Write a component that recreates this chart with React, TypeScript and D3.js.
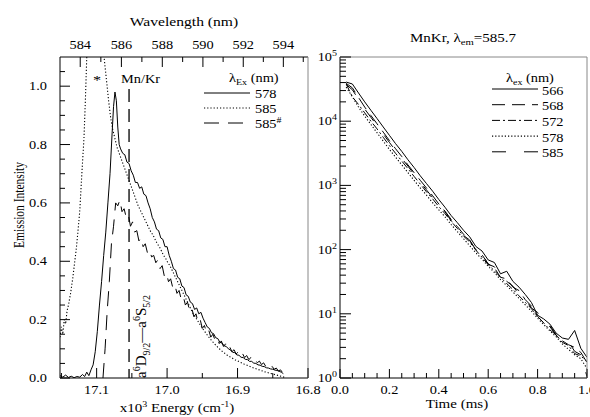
import React from 'react';
import * as d3 from 'd3';

const FONT = "'Liberation Serif', 'Times New Roman', Times, serif";
const SX = 1.25;

// ---------- Left panel: emission spectra [energy (10^3 cm^-1), intensity] ----------
const spec578: [number, number][] = [
  [17.152,0.008],[17.148,0.003],[17.144,0.01],[17.140,0.002],[17.136,0.006],[17.132,0.001],[17.128,0.005],[17.124,0.003],
  [17.120,0.012],[17.117,0.005],[17.114,0.02],[17.111,0.008],[17.108,0.028],[17.105,0.045],[17.102,0.09],[17.099,0.16],
  [17.096,0.25],[17.093,0.33],[17.090,0.42],[17.087,0.5],[17.084,0.6],[17.081,0.7],[17.078,0.84],[17.076,0.93],[17.074,0.98],
  [17.072,0.95],[17.070,0.86],[17.068,0.80],[17.066,0.785],[17.063,0.77],[17.060,0.765],[17.057,0.74],[17.054,0.735],
  [17.051,0.71],[17.048,0.695],[17.045,0.67],[17.042,0.67],[17.039,0.65],[17.036,0.655],[17.033,0.63],[17.030,0.625],
  [17.027,0.60],[17.024,0.58],[17.021,0.55],[17.018,0.535],[17.015,0.51],[17.012,0.505],[17.009,0.48],[17.006,0.475],
  [17.003,0.45],[17.000,0.45],[16.997,0.42],[16.994,0.40],[16.991,0.375],[16.988,0.37],[16.985,0.345],[16.982,0.34],
  [16.979,0.315],[16.976,0.31],[16.973,0.285],[16.970,0.28],[16.967,0.26],[16.964,0.255],[16.961,0.235],[16.958,0.24],
  [16.955,0.22],[16.952,0.225],[16.949,0.205],[16.946,0.19],[16.943,0.175],[16.940,0.17],[16.937,0.155],[16.934,0.152],
  [16.931,0.138],[16.928,0.135],[16.925,0.122],[16.922,0.12],[16.919,0.11],[16.916,0.108],[16.913,0.1],[16.910,0.096],
  [16.907,0.088],[16.904,0.087],[16.901,0.079],[16.898,0.078],[16.895,0.071],[16.892,0.07],[16.889,0.064],[16.886,0.063],
  [16.883,0.057],[16.880,0.057],[16.877,0.051],[16.874,0.05],[16.871,0.045],[16.868,0.044],[16.865,0.04],[16.862,0.039],
  [16.859,0.035],[16.856,0.034],[16.853,0.031],[16.850,0.03],[16.847,0.027],[16.844,0.026],[16.841,0.023],[16.838,0.02],
  [16.835,0.015],
];

const spec585: [number, number][] = [
  [17.152,0.14],[17.150,0.175],[17.148,0.15],[17.146,0.2],[17.144,0.185],[17.142,0.23],[17.140,0.25],[17.137,0.29],
  [17.134,0.34],[17.131,0.4],[17.129,0.44],[17.127,0.49],[17.124,0.57],[17.121,0.7],[17.118,0.82],[17.116,0.95],
  [17.114,1.1],[17.110,1.4],[17.104,1.8],[17.098,1.8],[17.093,1.4],[17.0895,1.1],[17.086,1.02],[17.083,0.95],
  [17.080,0.89],[17.077,0.85],[17.074,0.82],[17.071,0.79],[17.068,0.77],[17.065,0.75],[17.062,0.73],[17.059,0.71],
  [17.056,0.69],[17.053,0.67],[17.050,0.65],[17.047,0.63],[17.044,0.61],[17.041,0.59],[17.038,0.575],[17.035,0.56],
  [17.032,0.545],[17.029,0.53],[17.026,0.515],[17.023,0.5],[17.020,0.49],[17.017,0.475],[17.014,0.46],[17.011,0.45],
  [17.008,0.435],[17.005,0.42],[17.002,0.41],[16.999,0.395],[16.996,0.385],[16.993,0.37],[16.990,0.355],[16.987,0.34],
  [16.984,0.325],[16.981,0.31],[16.978,0.295],[16.975,0.28],[16.972,0.265],[16.969,0.25],[16.966,0.235],[16.963,0.22],
  [16.960,0.21],[16.957,0.198],[16.954,0.186],[16.951,0.175],[16.948,0.164],[16.945,0.154],[16.942,0.144],[16.939,0.135],
  [16.936,0.126],[16.933,0.118],[16.930,0.11],[16.927,0.103],[16.924,0.096],[16.921,0.09],[16.915,0.079],[16.909,0.07],
  [16.903,0.062],[16.897,0.055],[16.891,0.048],[16.885,0.042],[16.879,0.036],[16.873,0.031],[16.867,0.026],[16.861,0.021],
  [16.855,0.017],[16.849,0.013],[16.843,0.009],[16.837,0.005],[16.833,0.002],
];

const spec585h: [number, number][] = [
  [17.091,0.0],[17.088,0.1],[17.085,0.23],[17.082,0.33],[17.079,0.46],[17.076,0.52],[17.073,0.60],[17.070,0.59],
  [17.067,0.61],[17.064,0.57],[17.061,0.58],[17.058,0.55],[17.055,0.56],[17.052,0.52],[17.049,0.535],[17.046,0.50],
  [17.043,0.505],[17.040,0.47],[17.037,0.48],[17.034,0.45],[17.031,0.46],[17.028,0.43],[17.025,0.44],[17.022,0.415],
  [17.019,0.42],[17.016,0.395],[17.013,0.405],[17.010,0.375],[17.007,0.385],[17.004,0.35],[17.001,0.36],[16.998,0.33],
  [16.995,0.34],[16.992,0.31],[16.989,0.32],[16.986,0.29],[16.983,0.30],[16.980,0.27],[16.977,0.28],[16.974,0.25],
  [16.971,0.26],[16.968,0.23],[16.965,0.24],[16.962,0.21],[16.959,0.22],[16.956,0.19],[16.953,0.20],[16.950,0.17],
  [16.947,0.18],[16.944,0.155],[16.941,0.165],[16.938,0.14],[16.935,0.15],[16.932,0.13],[16.929,0.138],[16.926,0.118],
  [16.923,0.127],[16.920,0.108],[16.917,0.117],[16.914,0.098],[16.911,0.106],[16.908,0.09],[16.905,0.097],[16.902,0.082],
  [16.899,0.09],[16.896,0.076],[16.893,0.084],[16.890,0.07],[16.887,0.077],[16.884,0.063],[16.881,0.07],[16.878,0.058],
  [16.875,0.064],[16.872,0.052],[16.869,0.058],[16.866,0.046],[16.863,0.052],[16.860,0.04],[16.857,0.046],[16.854,0.035],
  [16.851,0.04],[16.848,0.03],[16.845,0.034],[16.842,0.024],[16.839,0.028],[16.836,0.018],
];

const mnKrEnergy = 17.054;
const mnKrTop = 0.99;

const energyMajor = [17.1, 17.0, 16.9, 16.8];
const energyMinor = [17.15, 17.05, 16.95, 16.85];
const waveMajor = [584, 586, 588, 590, 592, 594];
const waveMinor = [585, 587, 589, 591, 593, 595];
const intensityMajor = [0, 0.2, 0.4, 0.6, 0.8, 1.0];
const intensityMinor = [0.05, 0.1, 0.15, 0.25, 0.3, 0.35, 0.45, 0.5, 0.55, 0.65, 0.7, 0.75, 0.85, 0.9, 0.95, 1.05];
const leftLegend = ['578', '585', '585'];

// ---------- Right panel: decays ----------
const times = [0.025,0.05,0.075,0.1,0.125,0.15,0.175,0.2,0.225,0.25,0.275,0.3,0.325,0.35,0.375,0.4,0.425,0.45,0.475,0.5,
  0.525,0.55,0.575,0.6,0.625,0.65,0.675,0.7,0.725,0.75,0.775,0.8,0.825,0.85,0.875,0.9,0.925,0.95,0.975,1.0];
const decay566 = [40700,38000,27500,20000,14800,11000,8130,6030,4470,3390,2510,1900,1410,1070,813,603,457,339,263,200,
  158,112,95,69,63,42,46,32,26,20,15,9.5,8.3,6.9,5.0,4.2,4.0,5.5,2.9,2.1];
const decay568 = [38900,33100,23400,16600,12300,9120,6760,5010,3720,2820,2090,1580,1200,912,692,513,398,295,229,174,
  138,100,83,60,52,37,35,26,23,16.6,13.2,9.1,7.2,6.3,4.6,3.8,3.3,3.0,2.5,1.74];
const decay572 = [38000,24000,18200,13500,10000,7590,5620,4170,3160,2400,1820,1380,1050,794,617,468,363,275,214,162,
  132,98,76,58,47,37,29.5,24,19,15.1,12,9.1,7.2,5.6,4.7,3.6,3.2,2.4,2.2,1.8];
const decay578 = [33900,24000,16600,12000,8910,6610,4900,3630,2750,2090,1580,1200,912,708,537,417,324,245,191,148,
  115,89,71,55,44,34,27.5,21.9,17.4,13.8,11,8.5,6.8,5.4,4.4,3.4,2.8,2.3,2.0,1.4];
const decay585 = [37200,30900,21900,15500,11500,8510,6310,4680,3470,2630,2000,1480,1120,851,646,490,389,282,229,166,
  141,98,85,59,54,39,32,27,20,17,12.3,10.5,7.4,6.6,4.7,3.5,3.7,2.6,2.3,1.05];
const rightLegend = ['566', '568', '572', '578', '585'];
const timeMajor = [0, 0.2, 0.4, 0.6, 0.8, 1.0];
const timeMinor = [0.05, 0.1, 0.15, 0.25, 0.3, 0.35, 0.45, 0.5, 0.55, 0.65, 0.7, 0.75, 0.85, 0.9, 0.95];
const decades = [0, 1, 2, 3, 4, 5];

// styles (not data)
const leftDash = ['none', '1.2,2', '15,9'];
const rightDash = ['none', '13,7', '8,3,2,3', '1.2,2', '14,18'];

function T({ x, y, anchor = 'start', size = 11.5, rot = 0, sx = SX, children }: any) {
  return (
    <text
      transform={`translate(${x},${y}) scale(${sx},1)${rot ? ` rotate(${rot})` : ''}`}
      textAnchor={anchor}
      fontSize={size}
      fontFamily={FONT}
      fill="#000"
    >
      {children}
    </text>
  );
}

export default function App() {
  const L = { x0: 60, x1: 308, y0: 57, y1: 378 };
  const R = { x0: 340, x1: 587, y0: 57, y1: 378 };

  const xE = d3.scaleLinear().domain([17.152, 16.8]).range([L.x0, L.x1]);
  const yI = d3.scaleLinear().domain([0, 1.1]).range([L.y1, L.y0]);
  const xT = d3.scaleLinear().domain([0, 1.0]).range([R.x0, R.x1]);
  const yL = d3.scaleLog().domain([1, 1e5]).range([R.y1, R.y0]);

  const specLine = d3.line<[number, number]>().x(d => xE(d[0])).y(d => yI(d[1]));
  const decayLine = d3.line<number>().x((_, i) => xT(times[i])).y(d => yL(d));

  const leftSeries = [spec578, spec585, spec585h];
  const rightSeries = [decay566, decay568, decay572, decay578, decay585];

  const logMinor: number[] = [];
  decades.slice(0, -1).forEach(p => {
    for (let m = 2; m <= 9; m++) logMinor.push(m * Math.pow(10, p));
  });

  const waveX = (w: number) => xE(1e4 / w);

  return (
    <svg width={590} height={417} style={{ position: 'absolute', left: 0, top: 0, background: '#fff' }}>
      <defs>
        <clipPath id="clipL"><rect x={L.x0} y={L.y0} width={L.x1 - L.x0} height={L.y1 - L.y0} /></clipPath>
        <clipPath id="clipR"><rect x={R.x0} y={R.y0} width={R.x1 - R.x0} height={R.y1 - R.y0} /></clipPath>
      </defs>
      <rect x={0} y={0} width={590} height={417} fill="#fff" />

      {/* ================= LEFT PANEL ================= */}
      <g clipPath="url(#clipL)" fill="none" stroke="#000" strokeWidth={1}>
        {leftSeries.map((s, i) => (
          <path key={i} d={specLine(s) || ''} strokeDasharray={leftDash[i]} strokeWidth={i === 1 ? 1.1 : 1} />
        ))}
        <line x1={xE(mnKrEnergy)} x2={xE(mnKrEnergy)} y1={yI(mnKrTop)} y2={yI(0)} strokeDasharray="13,7" strokeWidth={1.3} />
      </g>

      <line x1={L.x0} x2={L.x0} y1={L.y0} y2={L.y1} stroke="#000" />
      <line x1={L.x0} x2={L.x1} y1={L.y1} y2={L.y1} stroke="#000" />
      <line x1={L.x0} x2={L.x1} y1={L.y0} y2={L.y0} stroke="#000" />
      <line x1={L.x1} x2={L.x1} y1={L.y0} y2={L.y1} stroke="#888" />

      {intensityMajor.map(v => (
        <g key={'im' + v}>
          <line x1={L.x0} x2={L.x0 + 10} y1={yI(v)} y2={yI(v)} stroke="#000" />
          <T x={L.x0 - 13} y={yI(v) + 4} anchor="end">{v.toFixed(1)}</T>
        </g>
      ))}
      {intensityMinor.map(v => (
        <line key={'in' + v} x1={L.x0} x2={L.x0 + 5} y1={yI(v)} y2={yI(v)} stroke="#000" />
      ))}

      {energyMajor.map(v => (
        <g key={'em' + v}>
          <line x1={xE(v)} x2={xE(v)} y1={L.y1} y2={L.y1 - 10} stroke="#000" />
          <T x={xE(v)} y={394} anchor="middle">{v.toFixed(1)}</T>
        </g>
      ))}
      {energyMinor.filter(v => v <= 17.152).map(v => (
        <line key={'en' + v} x1={xE(v)} x2={xE(v)} y1={L.y1} y2={L.y1 - 5} stroke="#000" />
      ))}

      {waveMajor.map(w => (
        <g key={'wm' + w}>
          <line x1={waveX(w)} x2={waveX(w)} y1={L.y0} y2={L.y0 + 10} stroke="#000" />
          <T x={waveX(w)} y={49} anchor="middle">{String(w)}</T>
        </g>
      ))}
      {waveMinor.filter(w => waveX(w) <= L.x1).map(w => (
        <line key={'wn' + w} x1={waveX(w)} x2={waveX(w)} y1={L.y0} y2={L.y0 + 5} stroke="#000" />
      ))}

      <T x={184} y={26} anchor="middle" size={12.5}>Wavelength (nm)</T>
      <T x={177} y={412} anchor="middle" size={12}>
        x10<tspan dy={-5} fontSize={8}>3</tspan><tspan dy={5}> Energy (cm</tspan>
        <tspan dy={-5} fontSize={8}>-1</tspan><tspan dy={5}>)</tspan>
      </T>
      <T x={24} y={205} anchor="middle" size={11.5} rot={-90}>Emission Intensity</T>

      <T x={97} y={84} anchor="middle" size={13}>*</T>
      <T x={121} y={83} anchor="start" size={11.5}>Mn/Kr</T>
      <T x={146} y={378} anchor="start" size={15} sx={1} rot={-90}>
        a<tspan dy={-6} fontSize={10}>6</tspan><tspan dy={6}>D</tspan>
        <tspan dy={4} fontSize={10}>9/2</tspan><tspan dy={-4}>—a</tspan>
        <tspan dy={-6} fontSize={10}>6</tspan><tspan dy={6}>S</tspan>
        <tspan dy={4} fontSize={10}>5/2</tspan>
      </T>

      <T x={229} y={82} anchor="start" size={11.5}>
        λ<tspan dy={3} fontSize={8}>Ex</tspan><tspan dy={-3}> (nm)</tspan>
      </T>
      {leftLegend.map((lab, i) => {
        const ly = [93, 108, 123][i];
        return (
          <g key={'ll' + i}>
            <line x1={204} x2={250} y1={ly} y2={ly} stroke="#000" strokeDasharray={leftDash[i]} strokeWidth={i === 1 ? 1.1 : 1} />
            <T x={255} y={ly + 5} anchor="start" size={11.5}>
              {lab}{i === 2 ? <tspan dy={-5} fontSize={8}>#</tspan> : null}
            </T>
          </g>
        );
      })}

      {/* ================= RIGHT PANEL ================= */}
      <g clipPath="url(#clipR)" fill="none" stroke="#000" strokeWidth={1}>
        {rightSeries.map((s, i) => (
          <path key={i} d={decayLine(s) || ''} strokeDasharray={rightDash[i]} strokeWidth={i === 3 ? 1.1 : 1} />
        ))}
      </g>

      <line x1={R.x0} x2={R.x0} y1={R.y0} y2={R.y1} stroke="#000" />
      <line x1={R.x0} x2={R.x1} y1={R.y1} y2={R.y1} stroke="#000" />
      <line x1={R.x0} x2={R.x1} y1={R.y0} y2={R.y0} stroke="#888" />
      <line x1={R.x1} x2={R.x1} y1={R.y0} y2={R.y1} stroke="#888" />

      {decades.map(p => (
        <g key={'d' + p}>
          <line x1={R.x0} x2={R.x0 + 11} y1={yL(Math.pow(10, p))} y2={yL(Math.pow(10, p))} stroke="#000" />
          <T x={R.x0 - 3} y={yL(Math.pow(10, p)) + 4} anchor="end">
            10<tspan dy={-5} fontSize={8}>{String(p)}</tspan>
          </T>
        </g>
      ))}
      {logMinor.map(v => (
        <line key={'lm' + v} x1={R.x0} x2={R.x0 + 6} y1={yL(v)} y2={yL(v)} stroke="#000" />
      ))}

      {timeMajor.map(v => (
        <g key={'tm' + v}>
          <line x1={xT(v)} x2={xT(v)} y1={R.y1} y2={R.y1 - 9} stroke="#000" />
          <T x={xT(v)} y={394} anchor="middle">{v.toFixed(1)}</T>
        </g>
      ))}
      {timeMinor.map(v => (
        <line key={'tn' + v} x1={xT(v)} x2={xT(v)} y1={R.y1} y2={R.y1 - 5} stroke="#000" />
      ))}

      <T x={457} y={408} anchor="middle" size={12}>Time (ms)</T>
      <T x={463} y={42} anchor="middle" size={12}>
        MnKr, λ<tspan dy={3} fontSize={8.5}>em</tspan><tspan dy={-3}>=585.7</tspan>
      </T>

      <T x={506} y={82} anchor="start" size={11.5}>
        λ<tspan dy={3} fontSize={8}>ex</tspan><tspan dy={-3}> (nm)</tspan>
      </T>
      {rightLegend.map((lab, i) => {
        const ly = 89 + i * 15.7;
        return (
          <g key={'rl' + i}>
            <line x1={492} x2={538} y1={ly} y2={ly} stroke="#000" strokeDasharray={rightDash[i]} strokeWidth={i === 3 ? 1.1 : 1} />
            <T x={542} y={ly + 5.5} anchor="start" size={11.5}>{lab}</T>
          </g>
        );
      })}
    </svg>
  );
}
